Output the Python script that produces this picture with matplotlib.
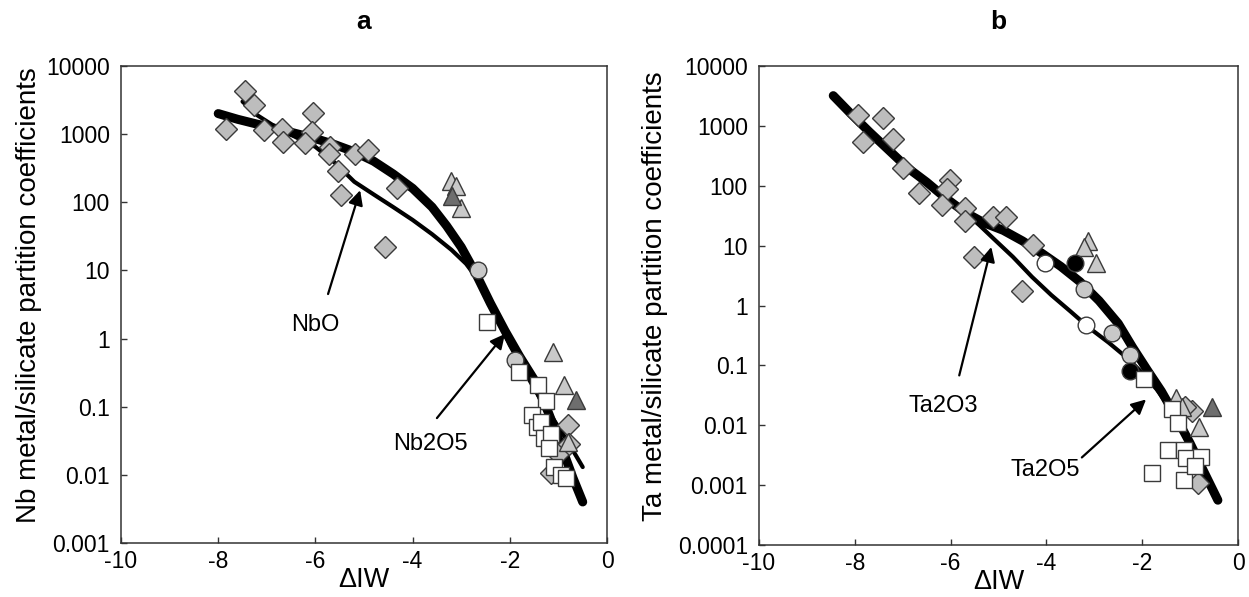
import matplotlib
matplotlib.use("Agg")
import matplotlib.pyplot as plt
from matplotlib.ticker import NullLocator

plt.rcParams["font.family"] = ["Liberation Sans", "DejaVu Sans"]
plt.rcParams["axes.unicode_minus"] = False

# ---- panel a: Nb ----
a_dia_x = [-7.45, -7.27, -7.84, -7.06, -6.69, -6.66, -6.05, -6.07, -6.22, -5.69, -5.72,
           -5.54, -5.48, -5.18, -4.92, -4.32, -4.57, -0.80, -1.00, -1.15, -0.78]
a_dia_y = [4250, 2700, 1200, 1150, 1200, 760, 2040, 1070, 740, 650, 515,
           290, 126, 515, 590, 162, 22, 0.054, 0.02, 0.0107, 0.028]
a_tri_lt_x = [-3.21, -3.11, -3.01, -1.11, -0.88, -0.80]
a_tri_lt_y = [205, 175, 83, 0.63, 0.21, 0.03]
a_tri_dk_x = [-3.19, -0.63]
a_tri_dk_y = [123, 0.125]
a_cir_x = [-2.65, -1.89]
a_cir_y = [10, 0.48]
a_sq_x = [-2.47, -1.82, -1.42, -1.25, -1.55, -1.45, -1.35, -1.30, -1.15, -1.20, -1.10, -0.95, -0.85]
a_sq_y = [1.75, 0.32, 0.21, 0.12, 0.075, 0.05, 0.06, 0.035, 0.04, 0.025, 0.013, 0.01, 0.009]

# fitted curves (Nb2O5 thick, NbO thin)
a_nb2o5_x = [-8.0, -7.6, -7.2, -6.8, -6.4, -6.0, -5.6, -5.2, -4.8, -4.4, -4.0,
             -3.6, -3.3, -3.0, -2.7, -2.4, -2.1, -1.8, -1.5, -1.2, -0.9, -0.7, -0.5]
a_nb2o5_y = [2000, 1650, 1400, 1200, 1020, 860, 700, 550, 400, 260, 160,
             85, 45, 22, 9, 3.3, 1.3, 0.55, 0.25, 0.08, 0.022, 0.009, 0.004]
a_nbo_x = [-7.5, -7.2, -6.8, -6.4, -6.0, -5.6, -5.2, -4.8, -4.4, -4.0, -3.6, -3.2,
           -2.9, -2.6, -2.3, -2.0, -1.7, -1.4, -1.1, -0.8, -0.5]
a_nbo_y = [3000, 1900, 1250, 900, 650, 380, 200, 130, 85, 55, 34, 20,
           12.5, 6.5, 2.3, 0.8, 0.33, 0.14, 0.065, 0.03, 0.013]

# ---- panel b: Ta ----
b_dia_x = [-7.93, -7.41, -7.82, -7.20, -6.99, -6.65, -6.01, -6.07, -6.19, -5.69, -5.71,
           -5.12, -4.85, -5.51, -4.28, -4.52, -0.96, -1.10, -0.84]
b_dia_y = [1550, 1350, 530, 615, 200, 77, 123, 90, 48, 42, 26,
           30, 30, 6.5, 10.2, 1.75, 0.017, 0.02, 0.0011]
b_tri_lt_x = [-3.14, -3.22, -2.97, -1.30, -1.17, -0.81]
b_tri_lt_y = [12, 9.5, 5.2, 0.029, 0.02, 0.0092]
b_tri_dk_x = [-0.54]
b_tri_dk_y = [0.02]
b_cir_gr_x = [-3.22, -2.64, -2.26]
b_cir_gr_y = [1.9, 0.35, 0.15]
b_cir_wh_x = [-4.02, -3.18]
b_cir_wh_y = [5.1, 0.47]
b_cir_bk_x = [-3.41, -2.26]
b_cir_bk_y = [5.1, 0.08]
b_sq_x = [-1.97, -1.38, -1.26, -1.46, -1.13, -1.09, -0.77, -1.80, -1.13, -0.89]
b_sq_y = [0.059, 0.019, 0.0107, 0.0039, 0.0039, 0.0028, 0.0029, 0.0016, 0.0012, 0.0021]

# fitted curves (Ta2O5 thick, Ta2O3 thin)
b_ta2o5_x = [-8.45, -8.1, -7.7, -7.3, -6.9, -6.5, -6.1, -5.7, -5.3, -4.9, -4.5, -4.1,
             -3.7, -3.3, -2.9, -2.5, -2.2, -1.9, -1.6, -1.3, -1.0, -0.7, -0.42]
b_ta2o5_y = [3200, 1650, 800, 400, 200, 115, 62, 36, 24, 18, 12, 7.5,
             4.5, 2.5, 1.2, 0.5, 0.2, 0.085, 0.037, 0.014, 0.005, 0.0016, 0.00056]
b_ta2o3_x = [-8.45, -8.1, -7.7, -7.3, -6.9, -6.5, -6.1, -5.7, -5.4, -5.1, -4.7, -4.3,
             -3.9, -3.5, -3.1, -2.7, -2.3, -2.0, -1.7, -1.3, -1.0, -0.7, -0.42]
b_ta2o3_y = [3200, 1650, 800, 400, 200, 115, 62, 36, 22, 13, 6.5, 3.0,
             1.5, 0.8, 0.42, 0.24, 0.13, 0.075, 0.04, 0.014, 0.005, 0.0016, 0.00056]

EDGE = "#3a3a3a"
DIA = "#bdbdbd"
TRI_LT = "#c9c9c9"
TRI_DK = "#6e6e6e"
CIR_GR = "#c8c8c8"


def style_axes(ax, ymin_exp, ylabel):
    ax.set_yscale("log")
    ax.set_xlim(-10, 0)
    ax.set_ylim(10.0 ** ymin_exp, 1e4)
    exps = list(range(ymin_exp, 5))
    ax.set_yticks([10.0 ** e for e in exps])
    ax.set_yticklabels([f"{10.0 ** e:.{max(0, -e)}f}" for e in exps])
    ax.yaxis.set_minor_locator(NullLocator())
    ax.set_xticks([-10, -8, -6, -4, -2, 0])
    ax.set_xticklabels(["-10", "-8", "-6", "-4", "-2", "0"])
    ax.tick_params(direction="in", length=4, width=1, labelsize=16.5, color="#333333")
    ax.tick_params(axis="x", pad=5)
    ax.tick_params(axis="y", pad=8)
    for sp in ax.spines.values():
        sp.set_linewidth(1.1)
        sp.set_color("#333333")
    ax.set_xlabel("\u0394IW", fontsize=19.5)
    ax.xaxis.set_label_coords(0.5, -0.05)
    ax.xaxis.label.set_va("top")
    ax.set_ylabel(ylabel, fontsize=20)


def marks(ax, x, y, marker, face, ms):
    ax.plot(x, y, linestyle="none", marker=marker, ms=ms, mfc=face, mec=EDGE, mew=1.0, zorder=4)


def arrow(ax, tail, tip):
    ax.annotate("", xy=tip, xytext=tail,
                arrowprops=dict(arrowstyle="-|>", lw=1.6, color="black", mutation_scale=22,
                                shrinkA=0, shrinkB=0), zorder=5)


fig = plt.figure(figsize=(12.49, 5.97), dpi=100)
ax_a = fig.add_axes([0.0969, 0.0905, 0.3891, 0.799])
ax_b = fig.add_axes([0.6077, 0.0871, 0.3835, 0.8023])

# panel a
ax_a.plot(a_nb2o5_x, a_nb2o5_y, color="black", lw=6.5, solid_capstyle="round",
          solid_joinstyle="round", zorder=2)
ax_a.plot(a_nbo_x, a_nbo_y, color="black", lw=3, solid_capstyle="round",
          solid_joinstyle="round", zorder=2)
marks(ax_a, a_dia_x, a_dia_y, "D", DIA, 11)
marks(ax_a, a_tri_lt_x, a_tri_lt_y, "^", TRI_LT, 13)
marks(ax_a, a_tri_dk_x, a_tri_dk_y, "^", TRI_DK, 13)
marks(ax_a, a_cir_x, a_cir_y, "o", CIR_GR, 12)
marks(ax_a, a_sq_x, a_sq_y, "s", "white", 11)
arrow(ax_a, (-5.74, 4.5), (-5.08, 150))
ax_a.text(-6.0, 1.6, "NbO", fontsize=17, ha="center", va="center")
arrow(ax_a, (-3.5, 0.068), (-2.1, 1.17))
ax_a.text(-3.64, 0.028, "Nb2O5", fontsize=17, ha="center", va="center")
style_axes(ax_a, -3, "Nb metal/silicate partition coefficients")
ax_a.yaxis.set_label_coords(-0.163, 0.52)

# panel b
ax_b.plot(b_ta2o5_x, b_ta2o5_y, color="black", lw=6.5, solid_capstyle="round",
          solid_joinstyle="round", zorder=2)
ax_b.plot(b_ta2o3_x, b_ta2o3_y, color="black", lw=3, solid_capstyle="round",
          solid_joinstyle="round", zorder=2)
marks(ax_b, b_dia_x, b_dia_y, "D", DIA, 11)
marks(ax_b, b_tri_lt_x, b_tri_lt_y, "^", TRI_LT, 13)
marks(ax_b, b_tri_dk_x, b_tri_dk_y, "^", TRI_DK, 13)
marks(ax_b, b_cir_gr_x, b_cir_gr_y, "o", CIR_GR, 12)
marks(ax_b, b_cir_wh_x, b_cir_wh_y, "o", "white", 12)
marks(ax_b, b_cir_bk_x, b_cir_bk_y, "o", "black", 12)
marks(ax_b, b_sq_x, b_sq_y, "s", "white", 11)
arrow(ax_b, (-5.82, 0.068), (-5.15, 9.5))
ax_b.text(-6.15, 0.021, "Ta2O3", fontsize=17, ha="center", va="center")
arrow(ax_b, (-3.26, 0.0029), (-1.92, 0.027))
ax_b.text(-4.02, 0.0018, "Ta2O5", fontsize=17, ha="center", va="center")
style_axes(ax_b, -4, "Ta metal/silicate partition coefficients")
ax_b.yaxis.set_label_coords(-0.19, 0.52)

fig.text(364 / 1249, 1 - 22 / 597, "a", fontsize=19, fontweight="bold", ha="center", va="center")
fig.text(998 / 1249, 1 - 22 / 597, "b", fontsize=19, fontweight="bold", ha="center", va="center")

fig.savefig("out.png", dpi=100)
